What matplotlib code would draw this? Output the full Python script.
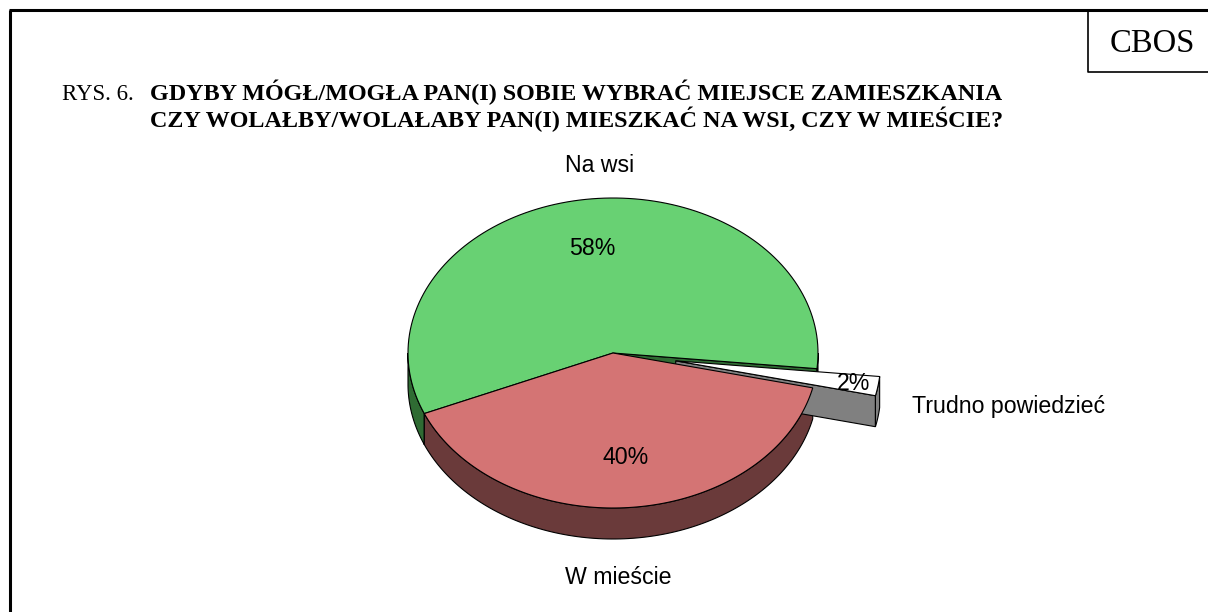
import numpy as np
import matplotlib.pyplot as plt
from matplotlib.patches import Polygon

# dane
labels = ['Na wsi', 'W mieście', 'Trudno powiedzieć']
values = [58, 40, 2]
pct_labels = ['58%', '40%', '2%']
explode = [0.0, 0.0, 0.31]
top_colors = ['#68D173', '#D47474', '#FFFFFF']
side_colors = ['#2F6B33', '#6A3A3A', '#808080']

# geometria wykresu (piksele)
cx, cy = 613, 353
rx, ry = 205, 155
depth = 31
start = -5.8

fig = plt.figure(figsize=(12.08, 6.12), dpi=100)
ax = fig.add_axes([0, 0, 1, 1])
ax.set_xlim(0, 1208)
ax.set_ylim(612, 0)
ax.axis('off')


def pt(t, ox, oy, dz=0.0):
    r = np.radians(t)
    return cx + ox + rx * np.cos(r), cy + oy - ry * np.sin(r) + dz


def arc(t1, t2, ox, oy, dz=0.0, n=120):
    ts = np.linspace(t1, t2, n)
    return [pt(t, ox, oy, dz) for t in ts]


def draw_slice(t1, t2, ox, oy, top, side, part):
    c = (cx + ox, cy + oy)
    if part == 'side':
        # sciany promieniowe
        if np.cos(np.radians(t1)) > 0:
            p = pt(t1, ox, oy)
            ax.add_patch(Polygon([c, p, (p[0], p[1] + depth), (c[0], c[1] + depth)],
                                 closed=True, fc=side, ec='black', lw=0.8))
        if np.cos(np.radians(t2)) < 0:
            p = pt(t2, ox, oy)
            ax.add_patch(Polygon([c, p, (p[0], p[1] + depth), (c[0], c[1] + depth)],
                                 closed=True, fc=side, ec='black', lw=0.8))
        # sciana zewnetrzna (dolna polowa elipsy)
        for k in (-360, 0, 360):
            a = max(t1, 180 + k)
            b = min(t2, 360 + k)
            if b > a:
                pts = arc(a, b, ox, oy) + arc(b, a, ox, oy, depth)
                ax.add_patch(Polygon(pts, closed=True, fc=side, ec='black', lw=0.8))
    else:
        pts = [c] + arc(t1, t2, ox, oy)
        ax.add_patch(Polygon(pts, closed=True, fc=top, ec='black', lw=0.8))


total = sum(values)
angles = []
a = start
for v in values:
    angles.append((a, a + v / total * 360))
    a += v / total * 360

offsets = []
for (t1, t2), e in zip(angles, explode):
    mid = np.radians((t1 + t2) / 2)
    offsets.append((e * rx * np.cos(mid), -e * ry * np.sin(mid)))

# boki, potem wysuniety wycinek, potem wierzch
order_exp = [i for i in range(len(values)) if explode[i] > 0]
order_main = [i for i in range(len(values)) if explode[i] == 0]
for i in order_main:
    draw_slice(*angles[i], *offsets[i], top_colors[i], side_colors[i], 'side')
for i in order_exp:
    draw_slice(*angles[i], *offsets[i], top_colors[i], side_colors[i], 'side')
    draw_slice(*angles[i], *offsets[i], top_colors[i], side_colors[i], 'top')
for i in order_main:
    draw_slice(*angles[i], *offsets[i], top_colors[i], side_colors[i], 'top')

# etykiety procentowe
lab_r = [0.68, 0.68, 0.88]
for i, (t1, t2) in enumerate(angles):
    mid = np.radians((t1 + t2) / 2)
    x = cx + offsets[i][0] + lab_r[i] * rx * np.cos(mid)
    y = cy + offsets[i][1] - lab_r[i] * ry * np.sin(mid)
    ax.text(x, y, pct_labels[i], fontsize=16.7, family='Liberation Sans',
            ha='center', va='center')

# etykiety kategorii
ax.text(600, 165, labels[0], fontsize=16.7, family='Liberation Sans', ha='center', va='center')
ax.text(618, 578, labels[1], fontsize=16.7, family='Liberation Sans', ha='center', va='center')
ax.text(912, 407, labels[2], fontsize=16.7, family='Liberation Sans', ha='left', va='center')

# tytul
ax.text(62, 100, 'RYS. 6.', fontsize=16.5, family='Liberation Serif', ha='left', va='baseline')
ax.text(150, 100, 'GDYBY MÓGŁ/MOGŁA PAN(I) SOBIE WYBRAĆ MIEJSCE ZAMIESZKANIA',
        fontsize=17.4, family='Liberation Serif', weight='bold', ha='left', va='baseline')
ax.text(150, 127, 'CZY WOLAŁBY/WOLAŁABY PAN(I) MIESZKAĆ NA WSI, CZY W MIEŚCIE?',
        fontsize=17.4, family='Liberation Serif', weight='bold', ha='left', va='baseline')

# ramka i CBOS
ax.plot([10, 10], [612, 10], color='black', lw=2.2, solid_capstyle='butt')
ax.plot([9, 1208], [10, 10], color='black', lw=2.2, solid_capstyle='butt')
ax.plot([1088, 1088, 1208], [10, 72, 72], color='black', lw=1.2)
ax.text(1152, 52, 'CBOS', fontsize=23.5, family='Liberation Serif', ha='center', va='baseline')

fig.savefig('out.png', dpi=100)
